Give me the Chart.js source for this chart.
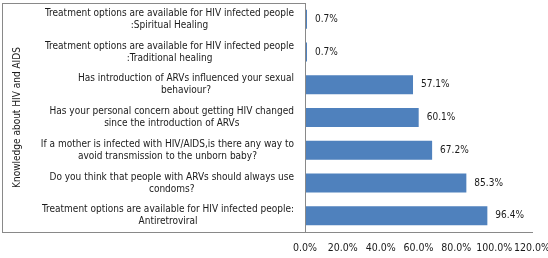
<!DOCTYPE html>
<html>
<head>
<meta charset="utf-8">
<script src="https://cdn.jsdelivr.net/npm/chart.js@4/dist/chart.umd.min.js"></script>
<style>
  html, body { margin: 0; padding: 0; background: #fff; }
  #wrap { width: 548px; height: 258px; }
</style>
</head>
<body>
<div id="wrap"><canvas id="knowledgeChart"></canvas></div>
<script>
// questions, top to bottom, split into the two lines shown
const questions = [
    ['Treatment options are available for HIV infected people', ':Spiritual Healing'],
    ['Treatment options are available for HIV infected people', ':Traditional healing'],
    ['Has introduction of ARVs influenced your sexual', 'behaviour?'],
    ['Has your personal concern about getting HIV changed', 'since the introduction of ARVs'],
    ['If a mother is infected with HIV/AIDS,is there any way to', 'avoid transmission to the unborn baby?'],
    ['Do you think that people with ARVs should always use', 'condoms?'],
    ['Treatment options are available for HIV infected people:', 'Antiretroviral']
];
const percentYes = [0.7, 0.7, 57.1, 60.1, 67.2, 85.3, 96.4];
const xTicks = [0, 20, 40, 60, 80, 100, 120];
const axisTitle = 'Knowledge about HIV and AIDS';

const fontFamily = '"Liberation Sans Narrow", "DejaVu Sans Condensed", sans-serif';
const labelFont = '10px ' + fontFamily;
const lineGray = '#898989';

// draws the framed label box, the category labels, the axis title and the value labels
const excelLook = {
    id: 'excelLook',
    afterDraw(chart) {
        const ctx = chart.ctx;
        const area = chart.chartArea;
        const y = chart.scales.y;
        ctx.save();
        ctx.strokeStyle = lineGray;
        ctx.lineWidth = 1;
        ctx.strokeRect(2.5, area.top + 0.5, area.left - 2, area.bottom - area.top);

        ctx.fillStyle = '#1a1a1a';
        ctx.font = labelFont;
        ctx.textBaseline = 'middle';
        ctx.textAlign = 'center';
        questions.forEach((lines, i) => {
            const cy = y.getPixelForValue(i);
            const w = Math.max(...lines.map(l => ctx.measureText(l).width));
            const cx = area.left - 11 - w / 2;
            const lh = 12;
            lines.forEach((l, j) => {
                ctx.fillText(l, cx, cy + (j - (lines.length - 1) / 2) * lh);
            });
        });

        ctx.textAlign = 'left';
        chart.getDatasetMeta(0).data.forEach((bar, i) => {
            ctx.fillText(percentYes[i].toFixed(1) + '%', bar.x + 8, bar.y);
        });

        ctx.translate(17, (area.top + area.bottom) / 2);
        ctx.rotate(-Math.PI / 2);
        ctx.textAlign = 'center';
        ctx.fillText(axisTitle, 0, 0);
        ctx.restore();
    }
};

const ctx = document.getElementById('knowledgeChart').getContext('2d');
const knowledgeChart = new Chart(ctx, {
    type: 'bar',
    data: {
        labels: questions,
        datasets: [{
            label: 'Yes',
            data: percentYes,
            backgroundColor: '#4f81bd',
            borderWidth: 0,
            minBarLength: 2,
            categoryPercentage: 1,
            barPercentage: 0.58
        }]
    },
    options: {
        indexAxis: 'y',
        responsive: true,
        maintainAspectRatio: false,
        animation: false,
        events: [],
        layout: {
            padding: { left: 305, right: 0, top: 3, bottom: 0 }
        },
        scales: {
            y: {
                display: false
            },
            x: {
                min: 0,
                max: 120,
                afterBuildTicks: (scale) => {
                    scale.ticks = xTicks.map(v => ({ value: v }));
                },
                afterFit: (scale) => {
                    scale.height = 26;
                    scale.paddingRight = 16;
                },
                grid: { display: false, drawTicks: false },
                border: { display: true, color: lineGray, width: 1 },
                ticks: {
                    padding: 10,
                    maxRotation: 0,
                    minRotation: 0,
                    autoSkip: false,
                    color: '#1a1a1a',
                    font: { family: fontFamily, size: 10.5 },
                    callback: (v) => v.toFixed(1) + '%'
                }
            }
        },
        plugins: {
            legend: { display: false },
            tooltip: { enabled: false }
        }
    },
    plugins: [excelLook]
});
</script>
</body>
</html>
